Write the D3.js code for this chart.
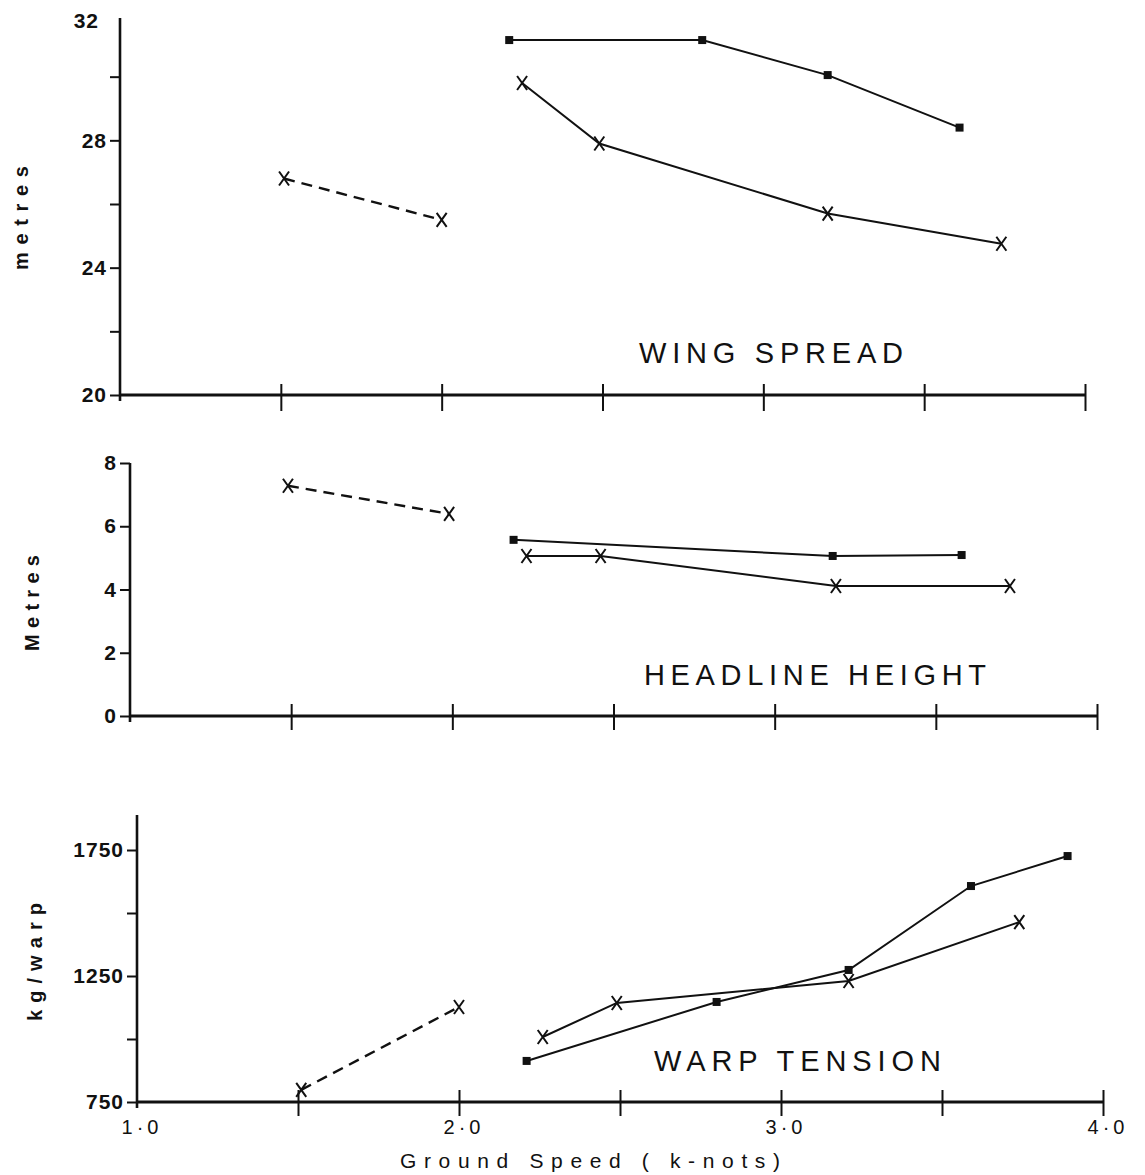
<!DOCTYPE html>
<html>
<head>
<meta charset="utf-8">
<script src="https://cdn.jsdelivr.net/npm/d3@7"></script>
<style>
  body { margin: 0; background: #fff; }
  svg { display: block; }
  text { font-family: "Liberation Sans", Arial, sans-serif; fill: #111; }
</style>
</head>
<body>
<div id="chart"></div>
<script>
// Ground speed ticks (knots)
let speedTicks = [1.5, 2.0, 2.5, 3.0, 3.5, 4.0];
let speedLabelValues = [1.0, 2.0, 3.0, 4.0];
let speedLabels = ["1·0", "2·0", "3·0", "4·0"];

// Wing spread (metres)
let wingTicks = [20, 22, 24, 26, 28, 30];
let wingLabelTicks = [20, 24, 28, 32];
let wingDashedX = [1.51, 2.0];
let wingDashedY = [26.8, 25.5];
let wingSquareX = [2.21, 2.81, 3.2, 3.61];
let wingSquareY = [31.15, 31.15, 30.05, 28.4];
let wingCrossX = [2.25, 2.49, 3.2, 3.74];
let wingCrossY = [29.8, 27.9, 25.7, 24.75];

// Headline height (metres)
let headTicks = [0, 2, 4, 6, 8];
let headDashedX = [1.49, 1.99];
let headDashedY = [7.28, 6.39];
let headSquareX = [2.19, 3.18, 3.58];
let headSquareY = [5.57, 5.06, 5.09];
let headCrossX = [2.23, 2.46, 3.19, 3.73];
let headCrossY = [5.06, 5.06, 4.11, 4.11];

// Warp tension (kg/warp)
let warpTicks = [750, 1000, 1250, 1500, 1750];
let warpLabelTicks = [750, 1250, 1750];
let warpDashedX = [1.51, 2.0];
let warpDashedY = [798, 1127];
let warpSquareX = [2.21, 2.8, 3.21, 3.59, 3.89];
let warpSquareY = [913, 1147, 1274, 1607, 1726];
let warpCrossX = [2.26, 2.49, 3.21, 3.74];
let warpCrossY = [1008, 1143, 1230, 1464];

let zip = (xs, ys) => xs.map((x, i) => ({ x: x, y: ys[i] }));

let svg = d3.select("#chart").append("svg")
	.attr("width", 1145)
	.attr("height", 1175);

// Panel layouts (pixel frames only)
let panels = [
	{
		left: 120, right: 1085, bottom: 395, top: 13, axisTop: 18,
		domain: [20, 32], ticks: wingTicks, labels: wingLabelTicks,
		dashed: zip(wingDashedX, wingDashedY),
		squares: zip(wingSquareX, wingSquareY),
		crosses: zip(wingCrossX, wingCrossY),
		title: "WING  SPREAD", titleX: 639, titleY: 363, titleLen: 264,
		yTitle: "metres", yTitleX: 21, yTitleY: 218, yTitleLen: 104,
		tickUp: 11, tickDown: 16, topLabel: 32
	},
	{
		left: 130, right: 1097, bottom: 716, top: 463, axisTop: 463,
		domain: [0, 8], ticks: headTicks, labels: headTicks,
		dashed: zip(headDashedX, headDashedY),
		squares: zip(headSquareX, headSquareY),
		crosses: zip(headCrossX, headCrossY),
		title: "HEADLINE  HEIGHT", titleX: 644, titleY: 685, titleLen: 342,
		yTitle: "Metres", yTitleX: 32, yTitleY: 603, yTitleLen: 96,
		tickUp: 12, tickDown: 14
	},
	{
		left: 137, right: 1103, bottom: 1102, top: 850, axisTop: 815,
		domain: [750, 1750], ticks: warpTicks, labels: warpLabelTicks,
		dashed: zip(warpDashedX, warpDashedY),
		squares: zip(warpSquareX, warpSquareY),
		crosses: zip(warpCrossX, warpCrossY),
		title: "WARP  TENSION", titleX: 654, titleY: 1071, titleLen: 287,
		yTitle: "kg/warp", yTitleX: 35, yTitleY: 962, yTitleLen: 118,
		tickUp: 12, tickDown: 14, showX: true
	}
];

panels.forEach(p => {
	let x = d3.scaleLinear().domain([1, 4]).range([p.left, p.right]);
	let y = d3.scaleLinear().domain(p.domain).range([p.bottom, p.top]);
	let g = svg.append("g");

	// y axis line
	g.append("line")
		.attr("x1", p.left).attr("x2", p.left)
		.attr("y1", p.bottom + 6).attr("y2", p.axisTop)
		.attr("stroke", "#111").attr("stroke-width", 2.6);

	let yAxis = d3.axisLeft(y)
		.tickValues(p.ticks)
		.tickSize(10)
		.tickPadding(3)
		.tickFormat(d => p.labels.includes(d) ? d : "");
	let ya = g.append("g")
		.attr("transform", "translate(" + p.left + ",0)")
		.call(yAxis);
	ya.select(".domain").remove();
	ya.selectAll("line").attr("stroke", "#111").attr("stroke-width", 2);
	ya.selectAll("text")
		.attr("fill", "#111")
		.style("font-size", "21px")
		.style("font-weight", "bold")
		.style("letter-spacing", "1px");

	// top label without a tick (wing spread 32)
	if (p.topLabel) {
		g.append("text")
			.attr("x", p.left - 21)
			.attr("y", y(p.topLabel) + 8)
			.attr("dy", "0.32em")
			.attr("text-anchor", "end")
			.style("font-size", "21px")
			.style("font-weight", "bold")
			.style("letter-spacing", "1px")
			.text(p.topLabel);
	}

	// x axis line with crossing ticks
	g.append("line")
		.attr("x1", p.left).attr("x2", p.right)
		.attr("y1", p.bottom).attr("y2", p.bottom)
		.attr("stroke", "#111").attr("stroke-width", 2.8);

	let xAxis = d3.axisBottom(x)
		.tickValues(speedTicks)
		.tickSize(p.tickDown)
		.tickFormat("");
	let xa = g.append("g")
		.attr("transform", "translate(0," + p.bottom + ")")
		.call(xAxis);
	xa.select(".domain").remove();
	xa.selectAll("line")
		.attr("y1", -p.tickUp)
		.attr("stroke", "#111").attr("stroke-width", 2);

	if (p.showX) {
		g.selectAll(".x-lab")
			.data(speedLabelValues)
			.enter().append("text")
			.attr("x", d => x(d) + 5)
			.attr("y", p.bottom + 32)
			.attr("text-anchor", "middle")
			.style("font-size", "20px")
			.style("letter-spacing", "4px")
			.text((d, i) => speedLabels[i]);
	}

	let line = d3.line().x(d => x(d.x)).y(d => y(d.y));

	// dashed series
	g.append("path")
		.datum(p.dashed)
		.attr("d", line)
		.attr("fill", "none")
		.attr("stroke", "#111")
		.attr("stroke-width", 2.4)
		.attr("stroke-dasharray", "11,7");

	// solid series
	[p.squares, p.crosses].forEach(s => {
		g.append("path")
			.datum(s)
			.attr("d", line)
			.attr("fill", "none")
			.attr("stroke", "#111")
			.attr("stroke-width", 2);
	});

	// square markers
	g.selectAll(".sq")
		.data(p.squares)
		.enter().append("rect")
		.attr("x", d => x(d.x) - 4)
		.attr("y", d => y(d.y) - 4)
		.attr("width", 8)
		.attr("height", 8)
		.attr("fill", "#111");

	// cross markers
	let crossPts = p.crosses.concat(p.dashed);
	g.selectAll(".cr")
		.data(crossPts)
		.enter().append("path")
		.attr("transform", d => "translate(" + x(d.x) + "," + y(d.y) + ")")
		.attr("d", "M-5,-7L5,7M5,-7L-5,7")
		.attr("fill", "none")
		.attr("stroke", "#111")
		.attr("stroke-width", 2);

	// panel title
	g.append("text")
		.attr("x", p.titleX)
		.attr("y", p.titleY)
		.attr("textLength", p.titleLen)
		.attr("lengthAdjust", "spacing")
		.style("font-size", "29px")
		.text(p.title);

	// y title
	g.append("text")
		.attr("transform", "translate(" + p.yTitleX + "," + p.yTitleY + ") rotate(-90)")
		.attr("text-anchor", "middle")
		.attr("dy", "0.35em")
		.attr("textLength", p.yTitleLen)
		.attr("lengthAdjust", "spacing")
		.style("font-size", "20px")
		.style("font-weight", "bold")
		.text(p.yTitle);
});

// x axis title
svg.append("text")
	.attr("x", 400)
	.attr("y", 1168)
	.attr("textLength", 380)
	.attr("lengthAdjust", "spacing")
	.style("font-size", "21px")
	.text("Ground  Speed  ( k-nots)");
</script>
</body>
</html>
